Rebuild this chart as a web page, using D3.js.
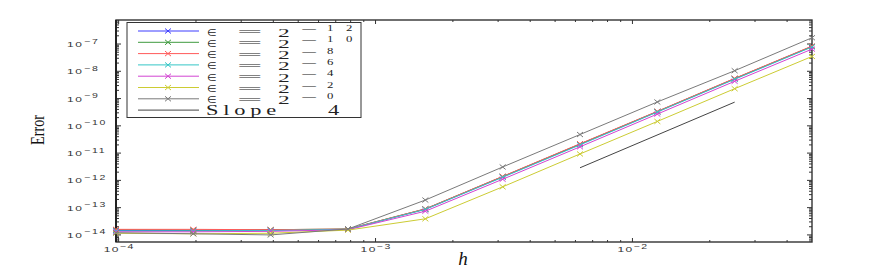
<!DOCTYPE html>
<html>
<head>
<meta charset="utf-8">
<script src="https://cdn.jsdelivr.net/npm/d3@7"></script>
<style>
  body { margin: 0; background: #fff; }
  svg { display: block; }
</style>
</head>
<body>
<svg id="chart"></svg>
<script>
// step sizes h (x values)
const hVals = [9.765625e-5, 1.953125e-4, 3.90625e-4, 7.8125e-4, 0.0015625, 0.003125, 0.00625, 0.0125, 0.025, 0.05];

// errors for each epsilon = 2^k
const errM12 = [1.45e-14, 1.45e-14, 1.5e-14, 1.6e-14, 8.8e-14, 1.35e-12, 2.1e-11, 3.3e-10, 5.3e-9, 8.1e-8];
const errM10 = [1.55e-14, 1.5e-14, 1.55e-14, 1.65e-14, 9.0e-14, 1.38e-12, 2.15e-11, 3.35e-10, 5.4e-9, 8.2e-8];
const errM8  = [1.6e-14, 1.6e-14, 1.55e-14, 1.65e-14, 9.0e-14, 1.4e-12, 2.2e-11, 3.4e-10, 5.5e-9, 8.4e-8];
const errM6  = [1.4e-14, 1.4e-14, 1.45e-14, 1.62e-14, 8.6e-14, 1.3e-12, 2.0e-11, 3.2e-10, 5.1e-9, 7.8e-8];
const errM4  = [1.3e-14, 1.3e-14, 1.35e-14, 1.55e-14, 7.4e-14, 1.1e-12, 1.7e-11, 2.7e-10, 4.3e-9, 6.5e-8];
const errM2  = [1.15e-14, 1.1e-14, 1.15e-14, 1.5e-14, 3.9e-14, 5.8e-13, 9.3e-12, 1.45e-10, 2.3e-9, 3.5e-8];
const err0   = [1.2e-14, 1.1e-14, 1.0e-14, 1.65e-14, 1.9e-13, 3.1e-12, 4.8e-11, 7.5e-10, 1.05e-8, 1.7e-7];

const epsExps = ["12", "10", "8", "6", "4", "2", "0"];
const seriesErr = [errM12, errM10, errM8, errM6, errM4, errM2, err0];
const seriesColors = ["#3c3cff", "#3f9a3f", "#ff5a5a", "#35c6c6", "#d244d2", "#cccc33", "#7a7a7a"];

// reference slope-4 segment
const slopeH = [0.00625, 0.025];
const slopeErr = [2.9e-12, 7.4e-10];

// axis labels
const xMajor = [1e-4, 1e-3, 1e-2];
const xMajorExp = ["−4", "−3", "−2"];
const yMajor = [1e-7, 1e-8, 1e-9, 1e-10, 1e-11, 1e-12, 1e-13, 1e-14];
const yMajorExp = ["−7", "−8", "−9", "−10", "−11", "−12", "−13", "−14"];

const width = 896, height = 273;
const margin = ({ top: 20, right: 85, bottom: 31, left: 116 });

const svg = d3.select("#chart")
    .attr("width", width)
    .attr("height", height)
    .attr("viewBox", [0, 0, width, height]);

const x = d3.scaleLog()
    .domain([9.765625e-5, 0.05])
    .range([margin.left, width - margin.right + 1]);

const y = d3.scaleLog()
    .domain([5.5e-15, 7.6e-7])
    .range([height - margin.bottom, margin.top]);

// minor tick positions (2..9 times each decade)
const minorOf = (scale, lo, hi) => {
    const out = [];
    for (let e = lo; e <= hi; e++) {
        for (let m = 2; m <= 9; m++) {
            const v = m * Math.pow(10, e);
            const [d0, d1] = scale.domain();
            if (v > d0 && v < d1) out.push(v);
        }
    }
    return out;
};
const xMinor = minorOf(x, -5, -2);
const yMinor = minorOf(y, -15, -7);

const x0 = margin.left, x1 = width - margin.right + 1;
const y0 = height - margin.bottom, y1 = margin.top;

// ticks, all pointing inward
const tickG = svg.append("g").attr("stroke", "#333").attr("stroke-width", 1);
const tick = (list, len, side) => {
    tickG.selectAll(null)
        .data(list)
        .join("line")
        .attr("x1", d => side === "b" || side === "t" ? x(d) : (side === "l" ? x0 : x1))
        .attr("x2", d => side === "b" || side === "t" ? x(d) : (side === "l" ? x0 + len : x1 - len))
        .attr("y1", d => side === "l" || side === "r" ? y(d) : (side === "b" ? y0 : y1))
        .attr("y2", d => side === "l" || side === "r" ? y(d) : (side === "b" ? y0 - len : y1 + len));
};
tick(xMajor, 4, "b"); tick(xMinor, 2, "b");
tick(xMajor, 4, "t"); tick(xMinor, 2, "t");
tick(yMajor, 5, "l"); tick(yMinor, 3, "l");
tick(yMajor, 5, "r"); tick(yMinor, 3, "r");

// frame
svg.append("rect")
    .attr("x", x0).attr("y", y1)
    .attr("width", x1 - x0).attr("height", y0 - y1)
    .attr("fill", "none")
    .attr("stroke", "#333")
    .attr("stroke-width", 1.4);
svg.append("line")
    .attr("x1", x0).attr("x2", x0).attr("y1", y1).attr("y2", y0)
    .attr("stroke", "#222").attr("stroke-width", 2);

// tick labels (wide, squat glyphs like the original)
const tickFont = "Liberation Sans, Arial, sans-serif";
const wideText = (g, tx, ty, size, ls, str) =>
    g.append("text")
        .attr("transform", `translate(${tx},${ty}) scale(1.5,1)`)
        .attr("font-size", size)
        .attr("letter-spacing", ls)
        .text(str);

const yLab = svg.append("g").attr("font-family", tickFont).attr("fill", "#333");
yMajor.forEach((v, i) => {
    wideText(yLab, 67, y(v) + 3, 8, 1, "10");
    wideText(yLab, 84, y(v) - 0.5, 7, 1.2, yMajorExp[i]);
});
const xLab = svg.append("g").attr("font-family", tickFont).attr("fill", "#333");
xMajor.forEach((v, i) => {
    wideText(xLab, x(v) - 15, 252, 8, 1, "10");
    wideText(xLab, x(v) + 1, 249, 7, 1.2, xMajorExp[i]);
});

// axis titles
svg.append("text")
    .attr("transform", "translate(44,130) rotate(-90)")
    .attr("text-anchor", "middle")
    .attr("font-family", "Liberation Serif, Times New Roman, serif")
    .attr("font-size", 18)
    .attr("textLength", 30)
    .attr("lengthAdjust", "spacingAndGlyphs")
    .attr("fill", "#111")
    .text("Error");

svg.append("text")
    .attr("x", 463).attr("y", 265)
    .attr("text-anchor", "middle")
    .attr("font-family", "Liberation Serif, Times New Roman, serif")
    .attr("font-style", "italic")
    .attr("font-size", 19)
    .attr("fill", "#111")
    .text("h");

// series lines + markers
const line = d3.line().x(d => x(d[0])).y(d => y(d[1]));
const cross = (g, cx, cy, color) => {
    g.append("path")
        .attr("d", `M${cx - 3},${cy - 2.5}L${cx + 3},${cy + 2.5}M${cx - 3},${cy + 2.5}L${cx + 3},${cy - 2.5}`)
        .attr("stroke", color).attr("stroke-width", 1).attr("fill", "none");
};

const plot = svg.append("g");
seriesErr.forEach((errs, i) => {
    const pts = hVals.map((h, j) => [h, errs[j]]);
    plot.append("path")
        .attr("d", line(pts))
        .attr("fill", "none")
        .attr("stroke", seriesColors[i])
        .attr("stroke-width", 1);
    pts.forEach(p => cross(plot, x(p[0]), y(p[1]), seriesColors[i]));
});

plot.append("path")
    .attr("d", line(slopeH.map((h, j) => [h, slopeErr[j]])))
    .attr("fill", "none")
    .attr("stroke", "#444")
    .attr("stroke-width", 1);

// legend
const lg = svg.append("g");
lg.append("rect")
    .attr("x", 127).attr("y", 22.5).attr("width", 234).attr("height", 95)
    .attr("fill", "#fff").attr("stroke", "#333").attr("stroke-width", 1);

const rowY = i => 31 + i * 11.3;
const serif = "Liberation Serif, Times New Roman, serif";
const lgText = (tx, ty, size, sx, ls, str) =>
    lg.append("text")
        .attr("transform", `translate(${tx},${ty}) scale(${sx},1)`)
        .attr("font-family", serif)
        .attr("font-size", size)
        .attr("letter-spacing", ls)
        .attr("fill", "#222")
        .text(str);

epsExps.forEach((ex, i) => {
    const yy = rowY(i);
    lg.append("line").attr("x1", 138).attr("x2", 199).attr("y1", yy).attr("y2", yy)
        .attr("stroke", seriesColors[i]).attr("stroke-width", 1);
    cross(lg, 168, yy, seriesColors[i]);
    lgText(207, yy + 4.5, 9.5, 1.1, 0, "∈");
    lgText(237, yy + 4, 11, 4.1, 0, "=");
    lgText(278, yy + 5.5, 13, 1.8, 0, "2");
    lgText(300, yy + 1, 9, 3.3, 0, "−");
    lgText(327, yy, 8.5, 1.5, ex.length > 1 ? 8.5 : 0, ex);
});
const sy = rowY(7);
lg.append("line").attr("x1", 138).attr("x2", 199).attr("y1", sy).attr("y2", sy)
    .attr("stroke", "#444").attr("stroke-width", 1);
lgText(206, sy + 5, 14, 1.6, 3, "Slope");
lgText(328, sy + 5, 14, 1.6, 0, "4");
</script>
</body>
</html>
